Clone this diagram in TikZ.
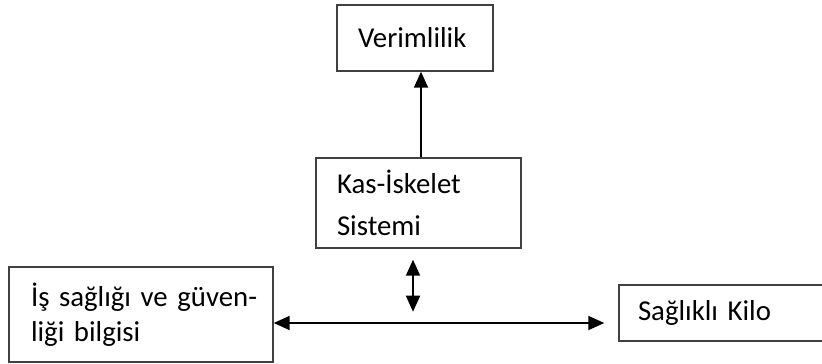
\documentclass[tikz,border=0pt]{standalone}
\usepackage{fontspec}
\setmainfont[WordSpace=0.7]{Carlito}
\usetikzlibrary{arrows.meta,positioning}

\begin{document}
\begin{tikzpicture}[
    x=0.5pt, y=-0.5pt,
    box/.style={rectangle, draw=black!75, line width=0.7pt, align=left, inner ysep=0pt, font=\fontsize{14.4}{21}\selectfont},
    arrow/.style={-{Triangle[length=8pt,width=7pt]}, line width=0.9pt},
    dblarrow/.style={{Triangle[length=8pt,width=7pt]}-{Triangle[length=8pt,width=7pt]}, line width=0.9pt}
]
    \useasboundingbox (0,0) rectangle (822,363);

    \node[box, text width=57pt, inner xsep=10.5pt, minimum height=33pt] (verim) at (415,38) {Verimlilik};
    \node[box, text width=81.5pt, inner xsep=10.5pt, minimum height=45pt] (kas) at (418.5,203) {Kas-İskelet\\Sistemi};
    \node[box, text width=110pt, inner xsep=11pt, minimum height=47.5pt, font=\fontsize{14.4}{17.5}\selectfont] (isg) at (141,314.5) {\mbox{İş sağlığı ve güven-}\\liği bilgisi};
    \node[box, text width=86.5pt, inner xsep=9.5pt, minimum height=28pt] (kilo) at (724.5,313) {Sağlıklı Kilo};

    \coordinate (hl) at (413,323);

    \draw[arrow] ([xshift=1.25pt]kas.north) -- ([xshift=1.25pt]kas.north |- verim.south);
    \draw[dblarrow] ([yshift=-5.5pt]kas.south -| hl) -- ++(0,52);
    \draw[dblarrow] (isg.east |- hl) -- ([xshift=-7pt]kilo.west |- hl);
\end{tikzpicture}
\end{document}
